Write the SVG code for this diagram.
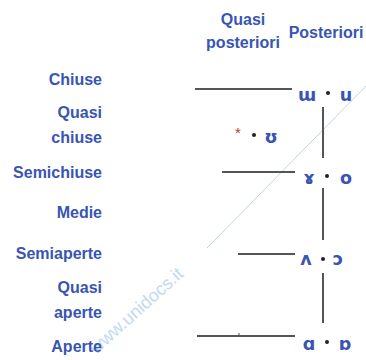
<svg xmlns="http://www.w3.org/2000/svg" width="366" height="360" viewBox="0 0 366 360">
<style>
.lbl{font-family:"Liberation Sans",Arial,sans-serif;font-weight:bold;font-size:16px;fill:#3955b4}
.end{text-anchor:end}
.mid{text-anchor:middle}
.ipa{font-family:"DejaVu Sans","Liberation Sans",sans-serif;font-weight:bold;font-size:17.5px;fill:#3955b4;text-anchor:middle}
.dot{fill:#222}
.ln{stroke:#555;stroke-width:2;fill:none}
.wm{font-family:"Liberation Sans",Arial,sans-serif;font-size:18px;fill:#c2daf0}
</style>
<rect width="366" height="360" fill="#fff"/>
<g id="watermark">
<line x1="366" y1="86" x2="207" y2="248" stroke="#bcd5ec" stroke-width="1"/>
<text class="wm" transform="translate(96,355) rotate(-42)">www.unidocs.it</text>
</g>
<g id="headers">
<text class="lbl mid" x="243" y="25">Quasi</text>
<text class="lbl mid" x="243" y="48">posteriori</text>
<text class="lbl mid" x="326" y="38">Posteriori</text>
</g>
<g id="row-labels">
<text class="lbl end" x="102" y="85">Chiuse</text>
<text class="lbl end" x="102" y="118">Quasi</text>
<text class="lbl end" x="102" y="143">chiuse</text>
<text class="lbl end" x="102" y="178">Semichiuse</text>
<text class="lbl end" x="102" y="218">Medie</text>
<text class="lbl end" x="102" y="259">Semiaperte</text>
<text class="lbl end" x="102" y="293">Quasi</text>
<text class="lbl end" x="102" y="318">aperte</text>
<text class="lbl end" x="102" y="352">Aperte</text>
</g>
<g id="connectors">
<line class="ln" x1="195" y1="89" x2="292" y2="89"/>
<line class="ln" x1="222" y1="172" x2="295" y2="172"/>
<line class="ln" x1="238" y1="254" x2="295" y2="254"/>
<line class="ln" x1="197" y1="336" x2="295" y2="336"/>
<line stroke="#555" stroke-width="1" x1="239" y1="333" x2="239" y2="336"/>
<line class="ln" x1="323" y1="107" x2="323" y2="158"/>
<line class="ln" x1="323" y1="188" x2="323" y2="240"/>
<line class="ln" x1="323" y1="273" x2="323" y2="323"/>
</g>
<g id="node-close">
<text class="ipa" x="307" y="101">ɯ</text>
<circle class="dot" cx="328" cy="93" r="2"/>
<text class="ipa" x="346" y="101">u</text>
</g>
<g id="node-near-close">
<text x="238" y="138" font-family="Liberation Sans,Arial,sans-serif" font-size="15" fill="#c0392b" text-anchor="middle">*</text>
<circle class="dot" cx="254" cy="135" r="2"/>
<text class="ipa" x="271" y="143">ʊ</text>
</g>
<g id="node-close-mid">
<text class="ipa" x="309" y="184">ɤ</text>
<circle class="dot" cx="327" cy="176" r="2"/>
<text class="ipa" x="346" y="184">o</text>
</g>
<g id="node-open-mid">
<text class="ipa" x="306" y="265">ʌ</text>
<circle class="dot" cx="323" cy="259" r="2"/>
<text class="ipa" x="338" y="265">ɔ</text>
</g>
<g id="node-open">
<text class="ipa" x="309" y="350">ɑ</text>
<circle class="dot" cx="327" cy="342" r="2"/>
<text class="ipa" x="345" y="350">ɒ</text>
</g>
</svg>
